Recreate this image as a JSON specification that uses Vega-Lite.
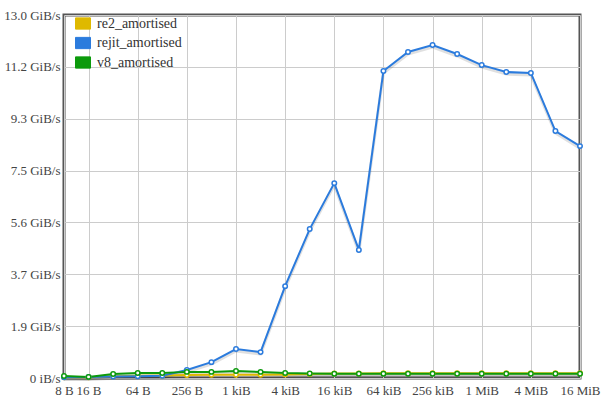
{
  "$schema": "https://vega.github.io/schema/vega-lite/v6.json",
  "width": 516,
  "height": 363,
  "autosize": {"type": "none"},
  "padding": {"left": 64, "top": 15, "right": 22, "bottom": 22},
  "background": "white",
  "config": {
    "view": {"stroke": "#555", "strokeWidth": 3},
    "font": "Liberation Serif",
    "axis": {
      "domain": false,
      "ticks": false,
      "gridColor": "#cccccc",
      "gridWidth": 1,
      "labelFont": "Liberation Serif",
      "labelFontSize": 13,
      "labelColor": "#444",
      "title": null
    }
  },
  "datasets": {
    "rows": [
      {"size": 8, "series": "re2_amortised", "v": 0.03},
      {"size": 16, "series": "re2_amortised", "v": 0.03},
      {"size": 32, "series": "re2_amortised", "v": 0.06},
      {"size": 64, "series": "re2_amortised", "v": 0.08},
      {"size": 128, "series": "re2_amortised", "v": 0.09},
      {"size": 256, "series": "re2_amortised", "v": 0.11},
      {"size": 512, "series": "re2_amortised", "v": 0.12},
      {"size": 1024, "series": "re2_amortised", "v": 0.12},
      {"size": 2048, "series": "re2_amortised", "v": 0.12},
      {"size": 4096, "series": "re2_amortised", "v": 0.13},
      {"size": 8192, "series": "re2_amortised", "v": 0.14},
      {"size": 16384, "series": "re2_amortised", "v": 0.16},
      {"size": 32768, "series": "re2_amortised", "v": 0.16},
      {"size": 65536, "series": "re2_amortised", "v": 0.17},
      {"size": 131072, "series": "re2_amortised", "v": 0.17},
      {"size": 262144, "series": "re2_amortised", "v": 0.17},
      {"size": 524288, "series": "re2_amortised", "v": 0.17},
      {"size": 1048576, "series": "re2_amortised", "v": 0.17},
      {"size": 2097152, "series": "re2_amortised", "v": 0.17},
      {"size": 4194304, "series": "re2_amortised", "v": 0.17},
      {"size": 8388608, "series": "re2_amortised", "v": 0.17},
      {"size": 16777216, "series": "re2_amortised", "v": 0.17},
      {"size": 8, "series": "rejit_amortised", "v": 0.03},
      {"size": 16, "series": "rejit_amortised", "v": 0.04},
      {"size": 32, "series": "rejit_amortised", "v": 0.05},
      {"size": 64, "series": "rejit_amortised", "v": 0.06},
      {"size": 128, "series": "rejit_amortised", "v": 0.08},
      {"size": 256, "series": "rejit_amortised", "v": 0.29},
      {"size": 512, "series": "rejit_amortised", "v": 0.57},
      {"size": 1024, "series": "rejit_amortised", "v": 1.04},
      {"size": 2048, "series": "rejit_amortised", "v": 0.93},
      {"size": 4096, "series": "rejit_amortised", "v": 3.30},
      {"size": 8192, "series": "rejit_amortised", "v": 5.35},
      {"size": 16384, "series": "rejit_amortised", "v": 7.00},
      {"size": 32768, "series": "rejit_amortised", "v": 4.60},
      {"size": 65536, "series": "rejit_amortised", "v": 11.03},
      {"size": 131072, "series": "rejit_amortised", "v": 11.71},
      {"size": 262144, "series": "rejit_amortised", "v": 11.96},
      {"size": 524288, "series": "rejit_amortised", "v": 11.64},
      {"size": 1048576, "series": "rejit_amortised", "v": 11.24},
      {"size": 2097152, "series": "rejit_amortised", "v": 10.99},
      {"size": 4194304, "series": "rejit_amortised", "v": 10.96},
      {"size": 8388608, "series": "rejit_amortised", "v": 8.87},
      {"size": 16777216, "series": "rejit_amortised", "v": 8.33},
      {"size": 8, "series": "v8_amortised", "v": 0.07},
      {"size": 16, "series": "v8_amortised", "v": 0.04},
      {"size": 32, "series": "v8_amortised", "v": 0.14},
      {"size": 64, "series": "v8_amortised", "v": 0.18},
      {"size": 128, "series": "v8_amortised", "v": 0.18},
      {"size": 256, "series": "v8_amortised", "v": 0.22},
      {"size": 512, "series": "v8_amortised", "v": 0.22},
      {"size": 1024, "series": "v8_amortised", "v": 0.25},
      {"size": 2048, "series": "v8_amortised", "v": 0.22},
      {"size": 4096, "series": "v8_amortised", "v": 0.18},
      {"size": 8192, "series": "v8_amortised", "v": 0.16},
      {"size": 16384, "series": "v8_amortised", "v": 0.15},
      {"size": 32768, "series": "v8_amortised", "v": 0.15},
      {"size": 65536, "series": "v8_amortised", "v": 0.15},
      {"size": 131072, "series": "v8_amortised", "v": 0.15},
      {"size": 262144, "series": "v8_amortised", "v": 0.15},
      {"size": 524288, "series": "v8_amortised", "v": 0.15},
      {"size": 1048576, "series": "v8_amortised", "v": 0.15},
      {"size": 2097152, "series": "v8_amortised", "v": 0.15},
      {"size": 4194304, "series": "v8_amortised", "v": 0.15},
      {"size": 8388608, "series": "v8_amortised", "v": 0.15},
      {"size": 16777216, "series": "v8_amortised", "v": 0.15}
    ]
  },
  "data": {"name": "rows"},
  "encoding": {
    "x": {
      "field": "size",
      "type": "quantitative",
      "scale": {"type": "log", "base": 2, "domain": [8, 16777216], "nice": false},
      "axis": {
        "values": [8, 16, 64, 256, 1024, 4096, 16384, 65536, 262144, 1048576, 4194304, 16777216],
        "labelExpr": "datum.value < 1024 ? datum.value + ' B' : (datum.value < 1048576 ? round(datum.value / 1024) + ' kiB' : round(datum.value / 1048576) + ' MiB')",
        "labelPadding": 6,
        "labelFlush": false,
        "labelOverlap": false
      }
    },
    "y": {
      "field": "v",
      "type": "quantitative",
      "scale": {"domain": [0, 13.04], "nice": false, "zero": true},
      "axis": {
        "values": [0, 1.8629, 3.7257, 5.5886, 7.4514, 9.3143, 11.1771, 13.04],
        "labelExpr": "datum.value == 0 ? '0 iB/s' : format(datum.value, '.1f') + ' GiB/s'",
        "labelPadding": 4,
        "labelFlush": false,
        "labelOverlap": false
      }
    },
    "color": {
      "field": "series",
      "type": "nominal",
      "scale": {
        "domain": ["re2_amortised", "rejit_amortised", "v8_amortised"],
        "range": ["#dfb900", "#2b7bdd", "#0c9a0c"]
      },
      "legend": {
        "title": null,
        "orient": "none",
        "legendX": 11,
        "legendY": 0.5,
        "padding": 0,
        "symbolType": "M-1,-0.75H1V0.75H-1Z",
        "symbolSize": 225,
        "symbolStrokeWidth": 1,
        "labelFont": "Liberation Serif",
        "labelFontSize": 14,
        "labelColor": "#333",
        "labelOffset": 6,
        "rowPadding": 3.5,
        "encode": {
          "symbols": {
            "update": {
              "fill": {"scale": "color", "field": "value"},
              "fillOpacity": {"value": 1},
              "stroke": {"value": "#cccccc"},
              "strokeWidth": {"value": 1}
            }
          }
        }
      }
    }
  },
  "layer": [
    {
      "mark": {"type": "line", "strokeWidth": 3, "yOffset": 2, "opacity": 0.12},
      "encoding": {"color": {"value": "#000000"}, "detail": {"field": "series", "type": "nominal"}}
    },
    {"mark": {"type": "line", "strokeWidth": 2}},
    {"mark": {"type": "point", "filled": false, "fill": "white", "fillOpacity": 1, "opacity": 1, "strokeWidth": 1.5, "size": 20}}
  ]
}
